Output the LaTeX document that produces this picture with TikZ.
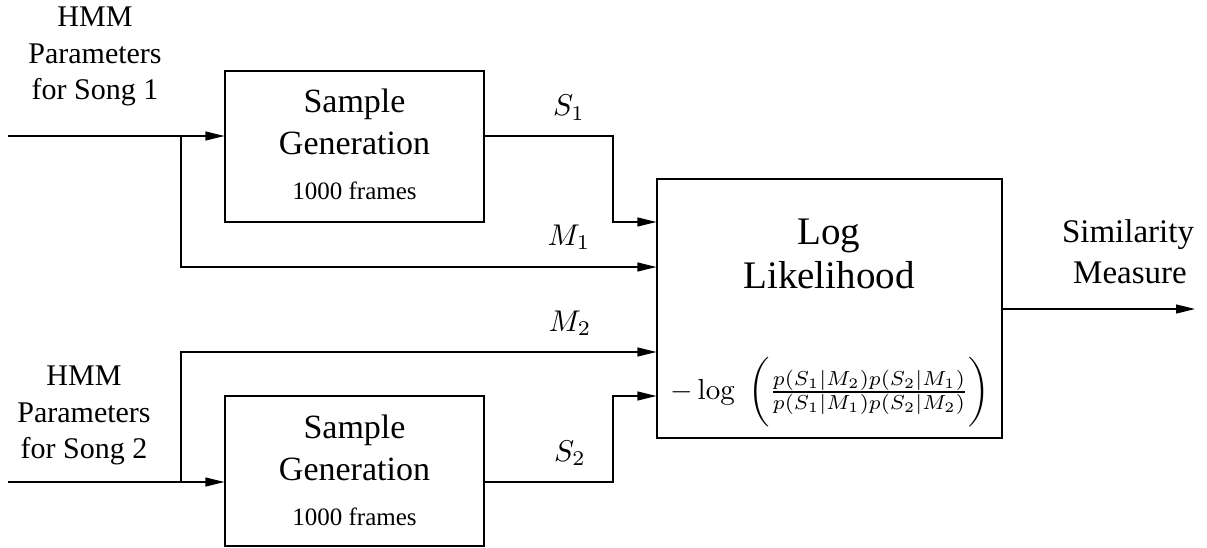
\documentclass[tikz,border=0pt]{standalone}
\usepackage[no-math]{fontspec}
\usepackage{graphicx}
\setmainfont{Liberation Serif}
\usetikzlibrary{arrows.meta}
\newcommand{\mbig}[2]{\scalebox{#1}{$#2$}}
\begin{document}
\begin{tikzpicture}[x=1pt,y=-1pt,line width=1.2pt,
  arr/.style={-{Triangle[length=19pt,width=9pt]}},
  blk/.style={draw,minimum width=259pt,minimum height=151pt,inner sep=0pt},
  bigblk/.style={draw,minimum width=345pt,minimum height=259pt,inner sep=0pt},
  lbl/.style={anchor=base,align=center,font=\fontsize{30}{36}\selectfont},
  boxtxt/.style={anchor=base,font=\fontsize{34}{40}\selectfont},
  smalltxt/.style={anchor=base,font=\fontsize{25}{30}\selectfont},
  bigtxt/.style={anchor=base,font=\fontsize{39}{46}\selectfont},
  mlbl/.style={anchor=base,inner sep=0pt},
  outlbl/.style={anchor=base,font=\fontsize{33}{40}\selectfont}]
\useasboundingbox (0,0) rectangle (1207,548);

% blocks
\node[blk] (top) at (354.5,146.5) {};
\node[blk,minimum height=150pt] (bot) at (354.5,471) {};
\node[bigblk] (ll) at (829.5,308.5) {};

% texts in blocks
\node[boxtxt] (t1a) at (354.5,113) {Sample};
\node[boxtxt] (t1b) at (354.5,155) {Generation};
\node[smalltxt] (t1c) at (354.5,200) {1000 frames};
\node[boxtxt] (t2a) at (354.5,438) {Sample};
\node[boxtxt] (t2b) at (354.5,480) {Generation};
\node[smalltxt] (t2c) at (354.5,525) {1000 frames};
\node[bigtxt] (la) at (829,244) {Log};
\node[bigtxt] (lb) at (829,288) {Likelihood};
\node[inner sep=0pt] (fm) at (830,392)
  {\mbig{2.9}{-\log\;\,\biggl(\frac{\rule{0pt}{1.1ex}p(S_1|M_2)p(S_2|M_1)}{p(S_1|M_1)p(S_2|M_2)\rule[-0.4ex]{0pt}{0.4ex}}\biggr)}};

% input labels
\node[lbl] (h1a) at (95,27) {HMM};
\node[lbl] (h1b) at (95,64) {Parameters};
\node[lbl] (h1c) at (95,100) {for Song 1};
\node[lbl] (h2a) at (84,385) {HMM};
\node[lbl] (h2b) at (84,422) {Parameters};
\node[lbl] (h2c) at (84,458) {for Song 2};

% output labels
\node[outlbl] (o1) at (1128,243) {Similarity};
\node[outlbl] (o2) at (1130,283) {Measure};

% math labels
\node[mlbl] (s1) at (569,116) {\mbig{3.0}{S_1}};
\node[mlbl] (m1) at (569,245) {\mbig{3.0}{M_1}};
\node[mlbl] (m2) at (570,331) {\mbig{3.0}{M_2}};
\node[mlbl] (s2) at (570,461) {\mbig{3.0}{S_2}};

% coordinates
\coordinate (in1) at (8,136);
\coordinate (in2) at (8,482);
\coordinate (br1) at (181,136);
\coordinate (br2) at (181,482);
\coordinate (c1) at (613,136);
\coordinate (c2) at (613,482);
\coordinate (y1) at (0,222);
\coordinate (y2) at (0,267);
\coordinate (y3) at (0,352);
\coordinate (y4) at (0,396);
\coordinate (out) at (1195,309);

% connectors
\draw[arr] (in1) -- (in1 -| top.west);
\draw[arr] (in2) -- (in2 -| bot.west);
\draw[arr] (br1) |- (ll.west |- y2);
\draw[arr] (br2) |- (ll.west |- y3);
\draw[arr] (top.east |- c1) -- (c1) |- (ll.west |- y1);
\draw[arr] (bot.east |- c2) -- (c2) |- (ll.west |- y4);
\draw[arr] (ll.east |- out) -- (out);
\end{tikzpicture}
\end{document}
